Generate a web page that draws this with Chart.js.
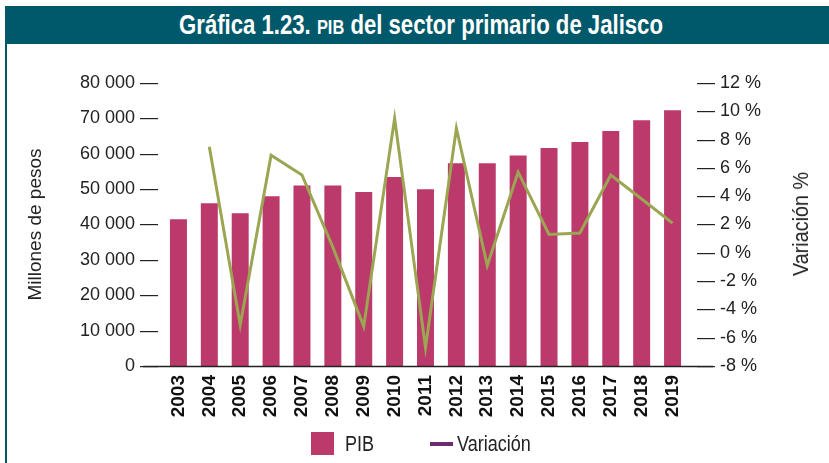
<!DOCTYPE html>
<html lang="es">
<head>
<meta charset="utf-8">
<title>Gráfica 1.23. PIB del sector primario de Jalisco</title>
<script src="https://cdn.jsdelivr.net/npm/chart.js@4"></script>
<style>
  body { margin: 0; background: #fff; }
  #frame { position: relative; width: 829px; height: 463px; overflow: hidden; font-family: 'Liberation Sans', Arial, sans-serif; color: #222; }
  #frame-line { position: absolute; left: 5px; top: 6px; width: 2px; height: 457px; background: #00596a; }
  #title-bar { position: absolute; left: 5px; top: 6px; width: 824px; height: 38px; background: #00596a; }
  #title-text { position: absolute; left: 421px; top: 25px; color: #fff; font-weight: bold; font-size: 27px; white-space: nowrap; transform: translate(-50%, -50%) scaleX(0.82); }
  #title-text .sc { font-size: 20px; }
  #chart { position: absolute; left: 0; top: 0; }
  #right-title { position: absolute; left: 801px; top: 224px; font-size: 22px; white-space: nowrap; transform: translate(-50%, -50%) rotate(-90deg) scaleX(0.9); }
  .legend-box { position: absolute; left: 311px; top: 432px; width: 23px; height: 23px; background: #bb3a6b; }
  .legend-line { position: absolute; left: 430px; top: 442px; width: 23px; height: 4px; background: #6a2c6e; }
  .legend-text { position: absolute; top: 444px; font-size: 22px; white-space: nowrap; transform: translateY(-50%) scaleX(0.82); transform-origin: left center; }
</style>
</head>
<body>
<div id="frame">
  <div id="frame-line"></div>
  <div id="title-bar"></div>
  <div id="title-text">Gráfica 1.23. <span class="sc">PIB</span> del sector primario de Jalisco</div>
  <canvas id="chart" width="829" height="463"></canvas>
  <div id="right-title">Variación %</div>
  <span class="legend-box"></span><span class="legend-text" style="left:345px">PIB</span>
  <span class="legend-line"></span><span class="legend-text" style="left:457px">Variación</span>
</div>
<script>
'use strict';

// ******* DATA *******
let years = ['2003', '2004', '2005', '2006', '2007', '2008', '2009', '2010', '2011',
  '2012', '2013', '2014', '2015', '2016', '2017', '2018', '2019'];

// millones de pesos
let pibValues = [41500, 46000, 43200, 48000, 51000, 51000, 49200, 53400, 50000,
  57300, 57300, 59500, 61600, 63300, 66400, 69500, 72300];

// variación anual, %
let variationValues = [null, 7.5, -5.1, 6.9, 5.5, 0.4, -5.2, 9.5, -6.7,
  8.8, -0.9, 5.7, 1.3, 1.4, 5.5, 3.8, 2.1];

let pibTicks = [0, 10000, 20000, 30000, 40000, 50000, 60000, 70000, 80000];
let variationTicks = [-8, -6, -4, -2, 0, 2, 4, 6, 8, 10, 12];

// ******* STYLE *******
let sansFont = '\'Liberation Sans\', Arial, sans-serif';
let barColor = '#bb3a6b';
let lineColor = '#9ba552';
let inkColor = '#222';

let canvasElem = document.getElementById('chart');

// ***** HELPERS *****
function formatThousands(value) {
  return String(value).replace(/\B(?=(\d{3})+(?!\d))/g, ' ');
}

// zero line runs a bit past both axes, under the first and last tick dashes
let baselinePlugin = {
  id: 'baseline',
  afterDraw(chart) {
    let ctx = chart.ctx;
    let area = chart.chartArea;
    let y = Math.round(chart.scales.y.getPixelForValue(0)) + 0.5;
    ctx.save();
    ctx.strokeStyle = inkColor;
    ctx.lineWidth = 1.5;
    ctx.beginPath();
    ctx.moveTo(area.left - 20, y);
    ctx.lineTo(area.right + 25, y);
    ctx.stroke();
    ctx.restore();
  }
};

// ***** CHART *****
let chartObj = {
  type: 'bar',
  data: {
    labels: years,
    datasets: [{
      type: 'line',
      label: 'Variación',
      data: variationValues,
      yAxisID: 'y1',
      borderColor: lineColor,
      borderWidth: 3,
      pointRadius: 0,
      tension: 0,
      order: 0
    },
    {
      label: 'PIB',
      data: pibValues,
      yAxisID: 'y',
      backgroundColor: barColor,
      barPercentage: 0.55,
      categoryPercentage: 1,
      order: 1
    }]
  },
  options: {
    responsive: false,
    animation: false,
    layout: {
      padding: { top: 83, left: 0, right: 0, bottom: 0 }
    },
    plugins: {
      legend: { display: false },
      tooltip: { enabled: false }
    },
    scales: {
      x: {
        grid: { display: false, drawTicks: false },
        border: { display: false },
        ticks: {
          minRotation: 90,
          maxRotation: 90,
          padding: 9,
          color: '#111',
          font: { family: sansFont, size: 19, weight: 'bold' }
        },
        afterFit: function (scale) { scale.height = 97; }
      },
      y: {
        position: 'left',
        min: pibTicks[0],
        max: pibTicks[pibTicks.length - 1],
        afterBuildTicks: function (scale) { scale.ticks = pibTicks.map(v => ({ value: v })); },
        grid: { display: false, drawTicks: false },
        border: { display: false },
        ticks: {
          padding: 5,
          color: inkColor,
          font: { family: sansFont, size: 18 },
          callback: function (value) { return formatThousands(value) + ' —'; }
        },
        title: {
          display: true,
          text: 'Millones de pesos',
          color: inkColor,
          padding: { top: 24, bottom: 0 },
          font: { family: sansFont, size: 19 }
        },
        afterFit: function (scale) { scale.width = 163; }
      },
      y1: {
        position: 'right',
        min: variationTicks[0],
        max: variationTicks[variationTicks.length - 1],
        afterBuildTicks: function (scale) { scale.ticks = variationTicks.map(v => ({ value: v })); },
        grid: { display: false, drawTicks: false },
        border: { display: false },
        ticks: {
          padding: 9,
          color: inkColor,
          font: { family: sansFont, size: 18 },
          callback: function (value) { return '— ' + value + ' %'; }
        },
        afterFit: function (scale) { scale.width = 141; }
      }
    }
  },
  plugins: [baselinePlugin]
};

new Chart(canvasElem, chartObj);
</script>
</body>
</html>
